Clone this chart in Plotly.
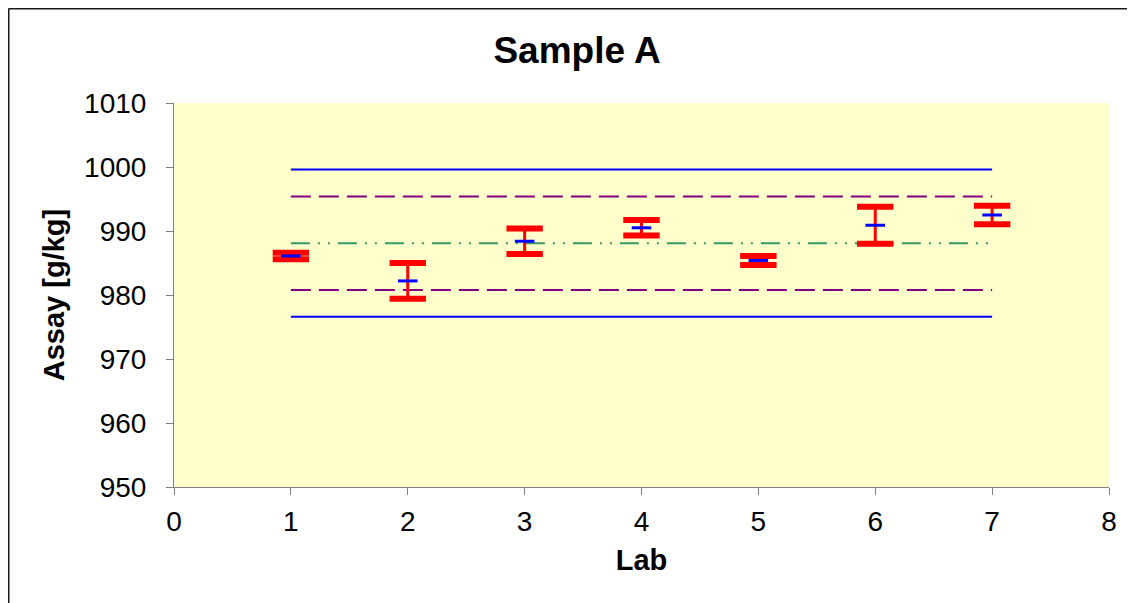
import plotly.graph_objects as go

labs = [1, 2, 3, 4, 5, 6, 7]
means = [986.1, 982.2, 988.4, 990.5, 985.4, 990.9, 992.5]
errs = [0.5, 2.8, 2.0, 1.2, 0.7, 2.9, 1.45]

ref_x = [1, 7]
grand_mean = 988.1
warn_lo, warn_hi = 980.8, 995.4
act_lo, act_hi = 976.6, 999.6

upper = [m + e for m, e in zip(means, errs)]
lower = [m - e for m, e in zip(means, errs)]

W, H = 1127, 595
L, R, T, B = 166, 26, 95, 116
PW, PH = W - L - R, H - T - B

fig = go.Figure()

def hline(y, color, dash):
    fig.add_trace(go.Scatter(x=ref_x, y=[y, y], mode="lines",
                             line=dict(color=color, width=2, dash=dash),
                             showlegend=False, hoverinfo="skip"))

hline(act_hi, "#0000FF", "solid")
hline(act_lo, "#0000FF", "solid")
hline(warn_hi, "#800080", "20px,8px")
hline(warn_lo, "#800080", "20px,8px")
hline(grand_mean, "#339966", "19px,8px,2px,8px,2px,8px")

# error bar stems
fig.add_trace(go.Scatter(x=labs, y=means, mode="markers",
                         marker=dict(size=1, color="rgba(0,0,0,0)"),
                         error_y=dict(type="data", array=errs, visible=True,
                                      color="#FF0000", thickness=3, width=0),
                         showlegend=False))
# caps
fig.add_trace(go.Scatter(x=labs + labs, y=upper + lower, mode="markers",
                         marker=dict(symbol="line-ew", size=26,
                                     line=dict(color="#FF0000", width=6)),
                         showlegend=False))
# means
fig.add_trace(go.Scatter(x=labs, y=means, mode="markers",
                         marker=dict(symbol="line-ew", size=14,
                                     line=dict(color="#0000FF", width=3)),
                         showlegend=False))

# outer frame (top and left edges visible)
x_left = (0.5 - L) / PW
y_top = (PH + T - 0.5) / PH
fig.add_shape(type="line", xref="paper", yref="paper",
              x0=x_left, x1=(W - L) / PW, y0=y_top, y1=y_top,
              line=dict(color="#1a1a1a", width=2), layer="below")
fig.add_shape(type="line", xref="paper", yref="paper",
              x0=x_left, x1=x_left, y0=(PH - (H - T)) / PH, y1=y_top,
              line=dict(color="#1a1a1a", width=2), layer="below")

fig.update_layout(
    width=W, height=H,
    margin=dict(l=L, r=R, t=T, b=B),
    paper_bgcolor="white", plot_bgcolor="#FFFFCC",
    font=dict(family="Liberation Sans, Arial", color="black", size=28),
    title=dict(text="<b>Sample A</b>", x=(569 - L) / PW, xref="paper",
               xanchor="center", y=1 - 42 / H, yanchor="middle",
               font=dict(size=37)),
    xaxis=dict(range=[0, 8], dtick=1, tick0=0, showgrid=False, zeroline=False,
               showline=True, linecolor="#808080", linewidth=1,
               ticks="outside", ticklen=7, tickcolor="#808080",
               ticklabelstandoff=2,
               title=dict(text="<b>Lab</b>", font=dict(size=29), standoff=14)),
    yaxis=dict(range=[950, 1010], dtick=10, showgrid=False, zeroline=False,
               showline=True, linecolor="#808080", linewidth=1,
               ticks="outside", ticklen=7, tickcolor="#808080",
               ticklabelstandoff=14,
               title=dict(text="<b>Assay [g/kg]</b>", font=dict(size=29), standoff=10)),
)

fig.write_html("out.html")
